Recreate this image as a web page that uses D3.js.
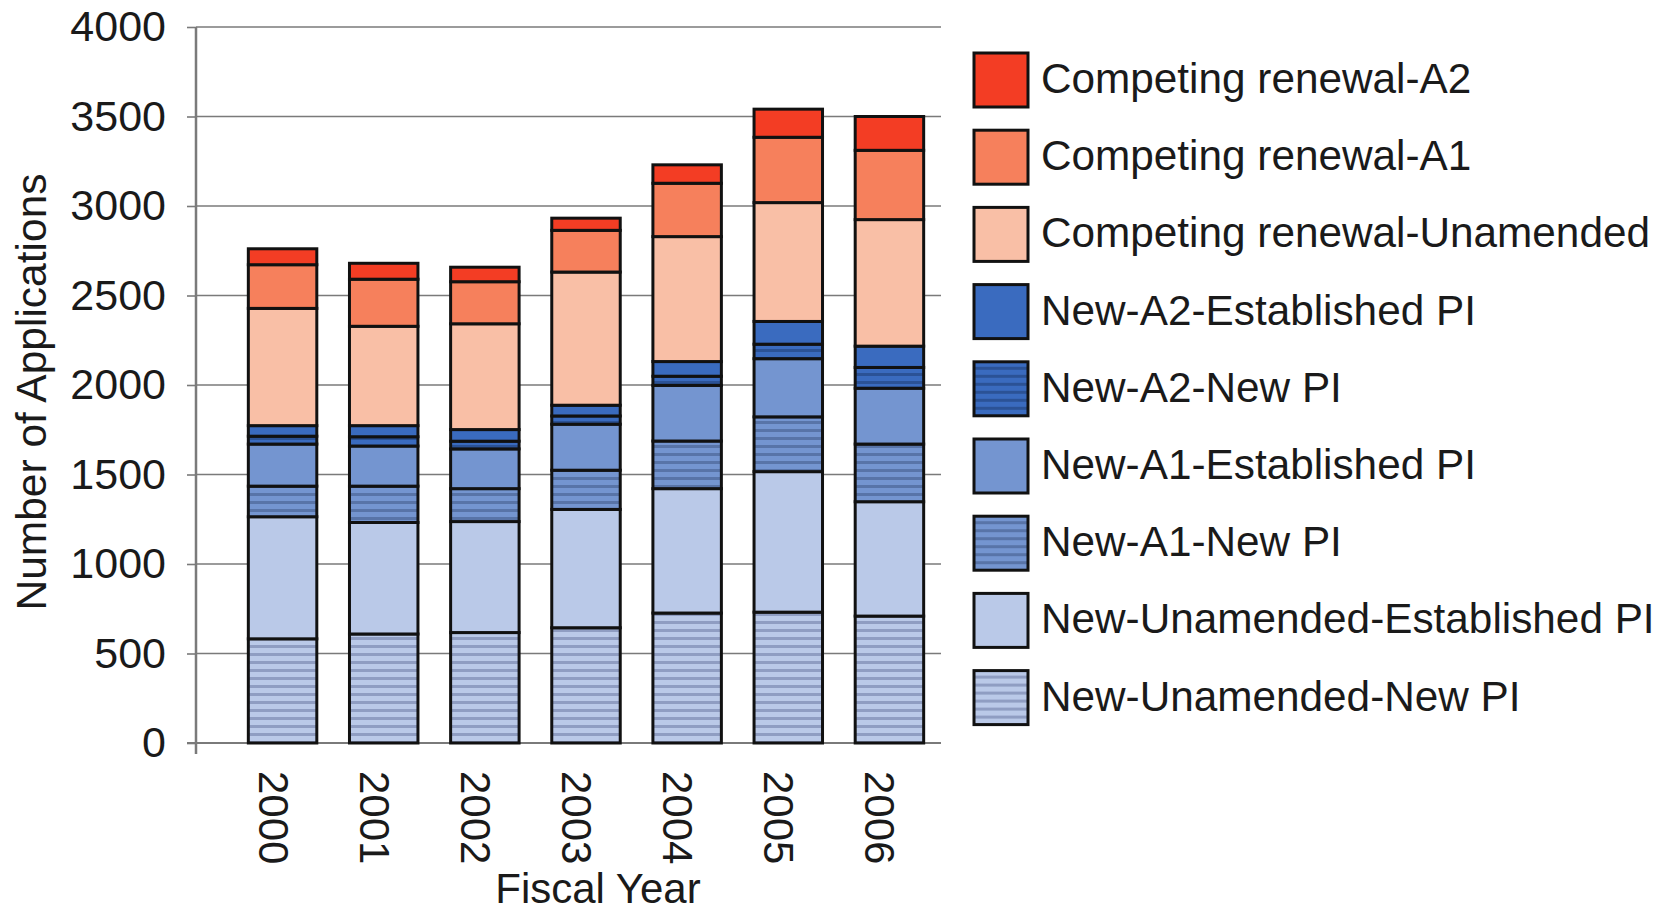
<!DOCTYPE html>
<html><head><meta charset="utf-8">
<script src="https://cdn.jsdelivr.net/npm/d3@7"></script>
<style>
body{margin:0;background:#fff}
svg text{font-family:"Liberation Sans",Arial,sans-serif;fill:#1a1a1a}
</style>
</head><body>
<svg id="chart" width="1676" height="914"></svg>
<script>
// ---- data (stack order bottom -> top) ----
const years = ["2000","2001","2002","2003","2004","2005","2006"];
const seriesNames = [
  "New-Unamended-New PI",
  "New-Unamended-Established PI",
  "New-A1-New PI",
  "New-A1-Established PI",
  "New-A2-New PI",
  "New-A2-Established PI",
  "Competing renewal-Unamended",
  "Competing renewal-A1",
  "Competing renewal-A2"
];
const newUnamendedNewPI         = [582, 609, 617, 644, 726, 731, 709];
const newUnamendedEstablishedPI = [682, 623, 620, 661, 695, 785, 639];
const newA1NewPI                = [171, 203, 184, 219, 266, 306, 322];
const newA1EstablishedPI        = [235, 224, 222, 257, 311, 325, 312];
const newA2NewPI                = [44, 52, 43, 46, 51, 81, 116];
const newA2EstablishedPI        = [59, 62, 65, 60, 82, 127, 119];
const competingUnamended        = [655, 555, 591, 744, 698, 664, 707];
const competingA1               = [244, 263, 235, 233, 298, 365, 387];
const competingA2               = [89, 89, 81, 68, 103, 157, 189];
const yTicks = [0,500,1000,1500,2000,2500,3000,3500,4000];

const seriesValues = [newUnamendedNewPI,newUnamendedEstablishedPI,newA1NewPI,newA1EstablishedPI,
  newA2NewPI,newA2EstablishedPI,competingUnamended,competingA1,competingA2];

// ---- styles ----
const fills = [
  {base:"#bac9e8", stripe:"#8f9dc2"},
  {base:"#bac9e8"},
  {base:"#7495d0", stripe:"#5874a8"},
  {base:"#7495d0"},
  {base:"#3a6bbf", stripe:"#2b5296"},
  {base:"#3a6bbf"},
  {base:"#f9bfa6"},
  {base:"#f6805c"},
  {base:"#f33d24"}
];

const svg = d3.select("#chart");
const defs = svg.append("defs");
fills.forEach((f,i)=>{
  if(!f.stripe) return;
  const p = defs.append("pattern").attr("id","pat"+i).attr("patternUnits","userSpaceOnUse")
    .attr("width",8).attr("height",8);
  p.append("rect").attr("width",8).attr("height",8).attr("fill",f.base);
  p.append("rect").attr("y",5).attr("width",8).attr("height",3).attr("fill",f.stripe);
});
const fillOf = i => fills[i].stripe ? `url(#pat${i})` : fills[i].base;

const rows = years.map((y,j)=>{const r={year:y}; seriesNames.forEach((s,i)=>r[s]=seriesValues[i][j]); return r;});
const stacked = d3.stack().keys(seriesNames)(rows);

const y = d3.scaleLinear().domain([0,4000]).range([743,27]);
const x = d3.scaleBand().domain(years).range([232,940]).paddingInner(0.323).paddingOuter(0.1615);
const axisX = 196, plotRight = 941;

// gridlines
svg.append("g").selectAll("line").data(yTicks.filter(t=>t>0)).join("line")
  .attr("x1",axisX).attr("x2",plotRight).attr("y1",d=>y(d)).attr("y2",d=>y(d))
  .attr("stroke","#7a7a7a").attr("stroke-width",1.6);

// y axis
const yAxis = svg.append("g").attr("transform",`translate(${axisX},0)`)
  .call(d3.axisLeft(y).tickValues(yTicks).tickSize(9).tickPadding(21).tickFormat(d3.format("d")));
yAxis.select(".domain").remove();
yAxis.selectAll(".tick line").attr("stroke","#7a7a7a").attr("stroke-width",1.6);
yAxis.selectAll(".tick text").attr("font-size",43).attr("fill","#1a1a1a")
  .attr("font-family","'Liberation Sans',Arial,sans-serif");
svg.append("line").attr("x1",axisX).attr("x2",axisX).attr("y1",y(4000)).attr("y2",y(0)+11)
  .attr("stroke","#7a7a7a").attr("stroke-width",2.5);
svg.append("line").attr("x1",axisX-9).attr("x2",plotRight).attr("y1",y(0)).attr("y2",y(0))
  .attr("stroke","#7a7a7a").attr("stroke-width",2);

// bars
svg.append("g").selectAll("g").data(stacked).join("g")
  .attr("fill",(d,i)=>fillOf(i))
  .selectAll("rect").data(d=>d).join("rect")
  .attr("x",d=>x(d.data.year)).attr("width",x.bandwidth())
  .attr("y",d=>y(d[1])).attr("height",d=>y(d[0])-y(d[1]))
  .attr("stroke","#111").attr("stroke-width",3);

// x tick labels (rotated 90)
svg.append("g").selectAll("text").data(years).join("text")
  .attr("transform",d=>`translate(${x(d)+x.bandwidth()/2-24},771) rotate(90)`)
  .attr("font-size",42).attr("text-anchor","start")
  .text(d=>d);

// axis titles
svg.append("text").attr("transform","translate(46,392) rotate(-90)")
  .attr("text-anchor","middle").attr("font-size",42.5).text("Number of Applications");
svg.append("text").attr("x",598).attr("y",903).attr("text-anchor","middle")
  .attr("font-size",42).text("Fiscal Year");

// legend (top -> bottom = reverse stack order)
const legendOrder = d3.range(seriesNames.length).reverse();
const lg = svg.append("g").selectAll("g").data(legendOrder).join("g")
  .attr("transform",(d,k)=>`translate(974,${53+77.2*k})`);
lg.append("rect").attr("width",54).attr("height",54).attr("fill",d=>fillOf(d))
  .attr("stroke","#111").attr("stroke-width",3);
lg.append("text").attr("x",67).attr("y",40).attr("font-size",42.3).text(d=>seriesNames[d]);
</script>
</body></html>
